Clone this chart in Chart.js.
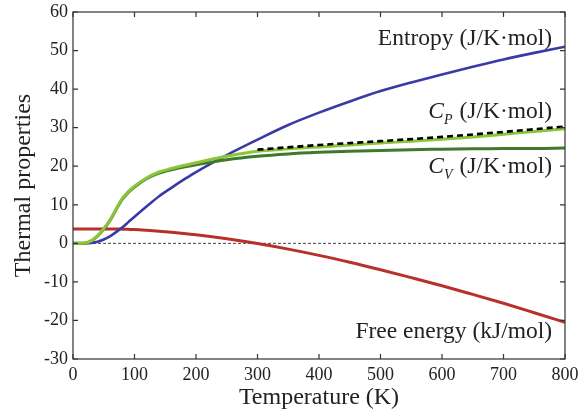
<!DOCTYPE html>
<html>
<head>
<meta charset="utf-8">
<script src="https://cdn.jsdelivr.net/npm/chart.js@4"></script>
<style>
  html, body { margin: 0; padding: 0; background: #fff; }
  canvas { display: block; }
</style>
</head>
<body>
<canvas id="thermo" width="578" height="413"></canvas>
<script>
const temps = [0, 10, 20, 30, 40, 50, 60, 70, 80, 90, 100, 120, 140, 160, 180, 200,
               250, 300, 350, 400, 450, 500, 550, 600, 650, 700, 750, 800];

const entropy = [0, 0, 0, 0.1, 0.4, 1.0, 1.8, 2.9, 4.1, 5.5, 6.9, 9.6, 12.2, 14.4, 16.5, 18.5,
                 22.9, 26.9, 30.7, 33.9, 36.8, 39.5, 41.7, 43.8, 45.8, 47.7, 49.4, 51.0];

const cp = [0, 0, 0.1, 0.7, 2.0, 3.8, 6.0, 8.9, 11.6, 13.4, 14.8, 17.0, 18.5, 19.4, 20.2, 20.9,
            22.6, 23.9, 24.5, 25.0, 25.5, 26.0, 26.5, 27.0, 27.6, 28.3, 29.0, 29.7];

const cv = [0, 0, 0.1, 0.6, 1.9, 3.7, 5.9, 8.7, 11.4, 13.2, 14.6, 16.8, 18.2, 19.1, 19.8, 20.4,
            21.7, 22.6, 23.2, 23.6, 23.9, 24.1, 24.3, 24.4, 24.5, 24.6, 24.6, 24.7];

const freeEnergy = [3.75, 3.75, 3.75, 3.75, 3.75, 3.74, 3.73, 3.72, 3.68, 3.63, 3.57, 3.38, 3.16, 2.89, 2.58, 2.23,
                    1.19, -0.06, -1.5, -3.12, -4.89, -6.85, -8.9, -11.0, -13.25, -15.55, -18.0, -20.5];

// experimental Cp (black dashed), only above room temperature
const cpExpTemps = [300, 400, 500, 600, 700, 800];
const cpExp = [24.3, 25.5, 26.5, 27.6, 28.9, 30.3];

const zeroLine = [[0, 0], [800, 0]];

const xTicks = [0, 100, 200, 300, 400, 500, 600, 700, 800];
const yTicks = [-30, -20, -10, 0, 10, 20, 30, 40, 50, 60];

const serif = '"Liberation Serif", "DejaVu Serif", serif';
const inkColor = '#222';

function pairs(xs, ys) {
    return xs.map((x, i) => ({ x: x, y: ys[i] }));
}

// labels next to the curves: [text parts], right edge (T value), baseline (y value)
const curveLabels = [
    { parts: [['Entropy (J/K\u00b7mol)', 'normal']], x: 779, y: 51.4 },
    { parts: [['C', 'italic'], ['P', 'sub'], [' (J/K\u00b7mol)', 'normal']], x: 779, y: 32.5 },
    { parts: [['C', 'italic'], ['V', 'sub'], [' (J/K\u00b7mol)', 'normal']], x: 779, y: 18.3 },
    { parts: [['Free energy (kJ/mol)', 'normal']], x: 779, y: -24.5 },
];

const frameAndLabels = {
    id: 'frameAndLabels',
    afterDraw(chart) {
        const { ctx, chartArea: a, scales: { x, y } } = chart;
        ctx.save();
        ctx.strokeStyle = '#333';
        ctx.lineWidth = 1.2;
        ctx.strokeRect(a.left, a.top, a.right - a.left, a.bottom - a.top);
        // inward tick marks on all four sides
        ctx.beginPath();
        const tl = 5;
        x.ticks.forEach(t => {
            const px = x.getPixelForValue(t.value);
            ctx.moveTo(px, a.bottom); ctx.lineTo(px, a.bottom - tl);
            ctx.moveTo(px, a.top); ctx.lineTo(px, a.top + tl);
        });
        y.ticks.forEach(t => {
            const py = y.getPixelForValue(t.value);
            ctx.moveTo(a.left, py); ctx.lineTo(a.left + tl, py);
            ctx.moveTo(a.right, py); ctx.lineTo(a.right - tl, py);
        });
        ctx.stroke();

        // curve labels
        ctx.fillStyle = inkColor;
        ctx.textBaseline = 'alphabetic';
        ctx.textAlign = 'left';
        const fontFor = s => s === 'italic' ? 'italic 23.5px ' + serif
                           : s === 'sub' ? 'italic 14px ' + serif
                           : '23.5px ' + serif;
        curveLabels.forEach(lab => {
            let w = 0;
            lab.parts.forEach(([txt, st]) => { ctx.font = fontFor(st); w += ctx.measureText(txt).width + (st === 'sub' ? 1 : 0); });
            let px = x.getPixelForValue(lab.x) - w;
            const py = y.getPixelForValue(lab.y);
            lab.parts.forEach(([txt, st]) => {
                ctx.font = fontFor(st);
                ctx.fillText(txt, px, st === 'sub' ? py + 6 : py);
                px += ctx.measureText(txt).width + (st === 'sub' ? 1 : 0);
            });
        });
        ctx.restore();
    }
};

const lineBase = { showLine: true, pointRadius: 0, borderWidth: 3, fill: false,
                   cubicInterpolationMode: 'monotone' };

new Chart(document.getElementById('thermo').getContext('2d'), {
    type: 'line',
    data: {
        datasets: [
            { ...lineBase, label: 'zero', data: zeroLine.map(([a, b]) => ({ x: a, y: b })),
              borderColor: '#111', borderWidth: 0.8, borderDash: [3, 2], order: 6 },
            { ...lineBase, label: 'Free energy', data: pairs(temps, freeEnergy), borderColor: '#b8302a', order: 5 },
            { ...lineBase, label: 'Entropy', data: pairs(temps, entropy), borderColor: '#3a3aa6', borderWidth: 2.6, order: 4 },
            { ...lineBase, label: 'Cv', data: pairs(temps, cv), borderColor: '#3f7a2c', order: 3 },
            { ...lineBase, label: 'Cp', data: pairs(temps, cp), borderColor: '#8cc43a', order: 2 },
            { ...lineBase, label: 'Cp exp', data: pairs(cpExpTemps, cpExp), borderColor: '#000',
              borderWidth: 2.6, borderDash: [6, 4], order: 1 },
        ]
    },
    options: {
        responsive: false,
        animation: false,
        events: [],
        layout: { padding: { top: 12, right: 13, left: 0, bottom: 0 } },
        plugins: { legend: { display: false }, tooltip: { enabled: false } },
        scales: {
            x: {
                type: 'linear', min: 0, max: 800,
                afterBuildTicks: s => { s.ticks = xTicks.map(v => ({ value: v })); },
                afterFit: s => { s.height = 54; s.paddingLeft = 0; s.paddingRight = 0; },
                grid: { display: false, drawTicks: false },
                border: { display: false },
                ticks: { font: { family: serif, size: 18 }, color: inkColor, padding: 5, maxRotation: 0 },
                title: { display: true, text: 'Temperature (K)', color: inkColor,
                         font: { family: serif, size: 24 }, padding: { top: 1, bottom: 1 } }
            },
            y: {
                type: 'linear', min: -30, max: 60,
                afterBuildTicks: s => { s.ticks = yTicks.map(v => ({ value: v })); },
                afterFit: s => { s.width = 73; s.paddingTop = 0; s.paddingBottom = 0; },
                grid: { display: false, drawTicks: false },
                border: { display: false },
                ticks: { font: { family: serif, size: 18 }, color: inkColor, padding: 5 },
                title: { display: true, text: 'Thermal properties', color: inkColor,
                         font: { family: serif, size: 24 }, padding: { top: 9.5, bottom: 0 } }
            }
        }
    },
    plugins: [frameAndLabels]
});
</script>
</body>
</html>
